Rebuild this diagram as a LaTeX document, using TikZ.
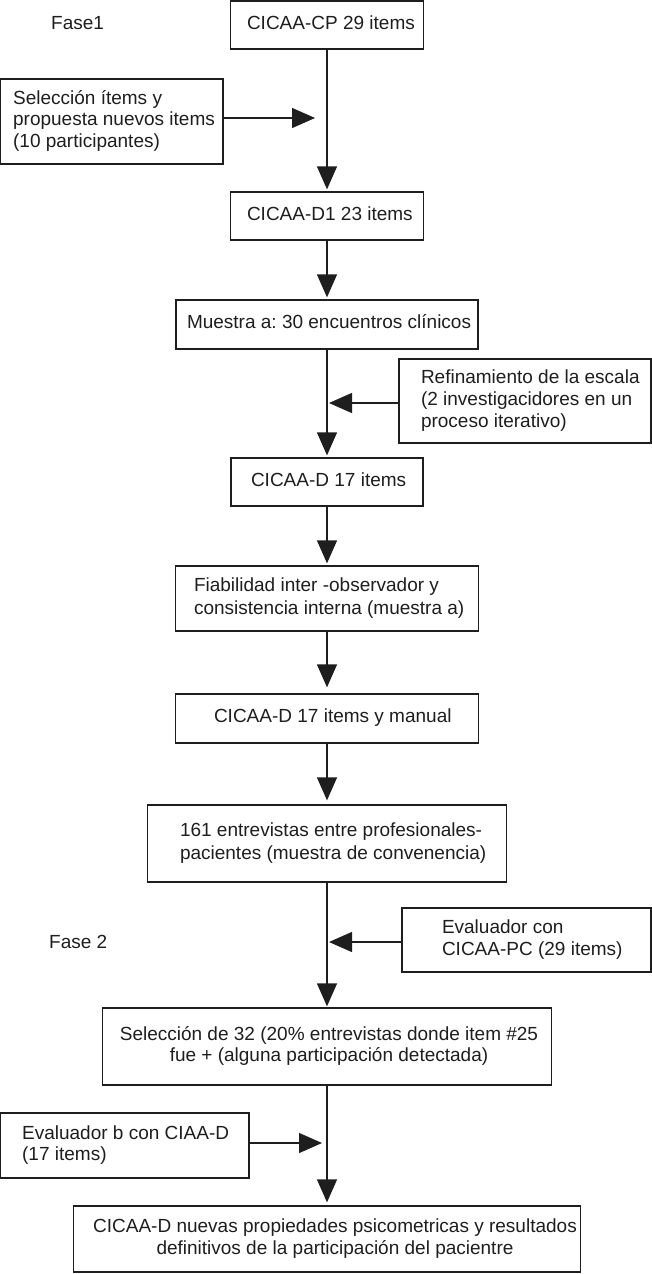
\documentclass[tikz,border=0pt]{standalone}
\usepackage{fontspec}
\setmainfont{Liberation Sans}
\usetikzlibrary{arrows.meta}
\frenchspacing
\newcommand\lbx[3]{\makebox[#1pt][l]{\hspace*{#2pt}\raisebox{-1.5pt}{\begin{tabular}{@{}l@{}}#3\end{tabular}}}}
\newcommand\cbx[3]{\makebox[#1pt][c]{\hspace*{#2pt}\raisebox{-1.5pt}{\begin{tabular}{@{}c@{}}#3\end{tabular}}}}
\definecolor{ink}{HTML}{1E1E1E}
\tikzset{
  flowbox/.style={draw=ink, line width=1.3pt, inner xsep=0pt, inner ysep=0pt, text=ink,
    font=\fontsize{19}{21.7}\selectfont, anchor=center},
  flowarrow/.style={draw=ink, line width=1.3pt, -{Triangle[length=23pt,width=20pt]}},
  mainarrow/.style={flowarrow, shorten >=2pt},
  phase/.style={text=ink, inner sep=0pt, anchor=base west, font=\fontsize{19}{21.7}\selectfont}
}
\begin{document}
\begin{tikzpicture}[x=1pt,y=-1pt]
\useasboundingbox (0,0) rectangle (652,1274);

\node[phase] (f1) at (51,29.8) {Fase1};
\node[phase] (f2) at (49,948.5) {Fase 2};

\node[flowbox, minimum width=193pt, minimum height=48pt] (b1) at (327,25)
  {\lbx{193}{16.5}{CICAA-CP 29 items}};
\node[flowbox, minimum width=222.4pt, minimum height=85pt] (b2) at (111.85,121.5)
  {\lbx{222.4}{12.5}{Selección ítems y\\propuesta nuevos items\\(10 participantes)}};
\node[flowbox, minimum width=193pt, minimum height=48pt] (b3) at (327,216)
  {\lbx{193}{16.5}{CICAA-D1 23 items}};
\node[flowbox, minimum width=302pt, minimum height=49pt] (b4) at (327,324.5)
  {\lbx{302}{11}{Muestra a: 30 encuentros clínicos}};
\node[flowbox, minimum width=252pt, minimum height=84pt] (b5) at (525,401)
  {\lbx{252}{22}{Refinamiento de la escala\\(2 investigacidores en un\\proceso iterativo)}};
\node[flowbox, minimum width=192pt, minimum height=48pt] (b6) at (327,482)
  {\lbx{192}{20}{CICAA-D 17 items}};
\node[flowbox, minimum width=303pt, minimum height=65pt] (b7) at (327,598.5)
  {\renewcommand\arraystretch{1.07}\lbx{303}{18.5}{Fiabilidad inter -observador y\\consistencia interna (muestra a)}};
\node[flowbox, minimum width=303pt, minimum height=49pt] (b8) at (327,718.5)
  {\lbx{303}{38.5}{CICAA-D 17 items y manual}};
\node[flowbox, minimum width=359pt, minimum height=77pt] (b9) at (327,843.5)
  {\renewcommand\arraystretch{1.07}\lbx{359}{32.5}{161 entrevistas entre profesionales-\\pacientes (muestra de convenencia)}};
\node[flowbox, minimum width=249pt, minimum height=64pt] (b10) at (526.5,940)
  {\lbx{249}{40}{Evaluador con\\CICAA-PC (29 items)}};
\node[flowbox, minimum width=449pt, minimum height=77pt] (b11) at (327,1046.5)
  {\cbx{449}{4}{Selección de 32 (20\% entrevistas donde item \#25\\fue + (alguna participación detectada)}};
\node[flowbox, minimum width=248.3pt, minimum height=65pt] (b12) at (124.8,1145.5)
  {\lbx{248.3}{21.5}{Evaluador b con CIAA-D\\(17 items)}};
\node[flowbox, minimum width=507pt, minimum height=66pt] (b13) at (327,1239)
  {\cbx{507}{16}{CICAA-D nuevas propiedades psicometricas y resultados\\definitivos de la participación del pacientre}};

\coordinate (t1) at (315,118);
\coordinate (t2) at (329,403);
\coordinate (t3) at (329,942);
\coordinate (t4) at (322,1143);

\draw[mainarrow] (b1.south) -- (b3.north);
\draw[mainarrow] (b3.south) -- (b4.north);
\draw[mainarrow] (b4.south) -- (b6.north);
\draw[mainarrow] (b6.south) -- (b7.north);
\draw[mainarrow, shorten >=6pt] (b7.south) -- (b8.north);
\draw[mainarrow, shorten >=4pt] (b8.south) -- (b9.north);
\draw[mainarrow, shorten >=1pt] (b9.south) -- (b11.north);
\draw[mainarrow, shorten >=3pt] (b11.south) -- (b13.north);

\draw[flowarrow] (b2.east |- t1) -- (t1);
\draw[flowarrow] (b5.west |- t2) -- (t2);
\draw[flowarrow] (b10.west |- t3) -- (t3);
\draw[flowarrow] (b12.east |- t4) -- (t4);
\end{tikzpicture}
\end{document}
